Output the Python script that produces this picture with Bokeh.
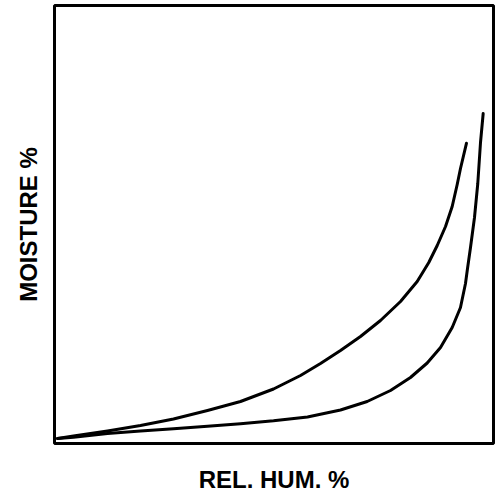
from bokeh.plotting import figure
from bokeh.models import Range1d
from bokeh.embed import file_html
from bokeh.resources import INLINE

# Data (arbitrary units, 0-100 box)
upper_x = [0.68, 4.33, 12.07, 19.59, 27.11, 34.85, 42.37, 49.89, 56.04, 60.59, 65.15, 69.70,
           74.26, 78.82, 82.62, 85.26, 87.18, 89.07, 90.59, 91.73, 92.48, 93.85]
upper_y = [1.14, 1.71, 2.85, 4.11, 5.59, 7.53, 9.59, 12.44, 15.53, 18.26, 21.23, 24.43,
           28.08, 32.42, 36.99, 41.32, 45.21, 49.54, 54.11, 59.13, 62.79, 68.56]
lower_x = [0.68, 4.33, 12.07, 19.59, 27.11, 34.85, 42.37, 49.89, 57.63, 65.15, 71.23, 76.54,
           81.09, 84.90, 87.93, 90.59, 92.48, 93.62, 94.08, 94.76, 95.67, 96.42, 97.04, 97.65]
lower_y = [1.14, 1.42, 2.28, 2.85, 3.38, 3.93, 4.52, 5.18, 6.05, 7.65, 9.59, 12.10,
           15.07, 18.38, 21.92, 26.48, 31.05, 36.53, 39.95, 44.75, 51.60, 59.36, 68.72, 75.34]

x_label = "REL. HUM. %"
y_label = "MOISTURE %"

p = figure(width=497, height=497, output_backend="svg", toolbar_location=None,
           x_range=Range1d(0, 100), y_range=Range1d(0, 100),
           min_border_left=54, min_border_right=4, min_border_top=5, min_border_bottom=54)
p.grid.visible = False
p.outline_line_color = "black"
p.outline_line_width = 3
p.background_fill_color = "white"
p.border_fill_color = "white"

for ax in (p.xaxis, p.yaxis):
    ax.ticker = []
    ax.axis_line_color = None
    ax.major_tick_line_color = None
    ax.minor_tick_line_color = None
    ax.major_tick_out = 0
    ax.minor_tick_out = 0
    ax.major_label_standoff = 0
    ax.major_label_text_font_size = "0px"
    ax.axis_label_text_font = "Liberation Sans"
    ax.axis_label_text_font_style = "bold"
    ax.axis_label_text_font_size = "24px"
    ax.axis_label_text_color = "black"

p.xaxis.axis_label = x_label
p.yaxis.axis_label = y_label
p.xaxis.axis_label_standoff = 22
p.yaxis.axis_label_standoff = 13

for xs, ys in [(upper_x, upper_y), (lower_x, lower_y)]:
    p.line(xs, ys, line_color="black", line_width=3, line_join="round", line_cap="round")

open("out.html", "w").write(file_html(p, INLINE))
